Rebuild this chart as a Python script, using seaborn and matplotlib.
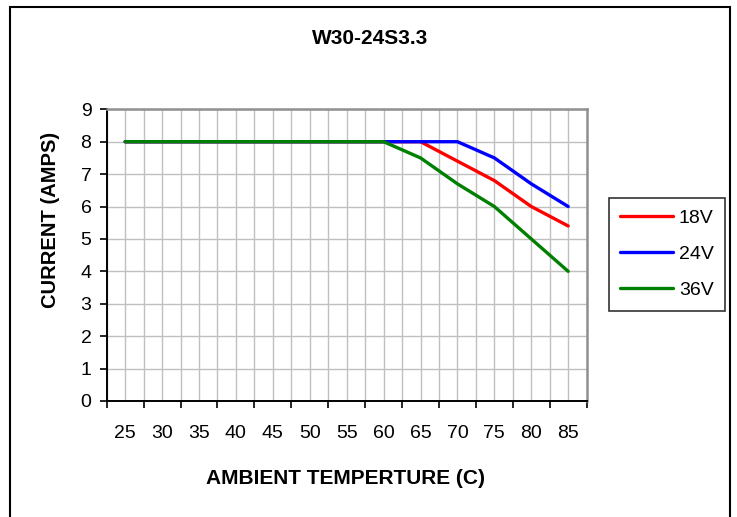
import pandas as pd
import matplotlib
matplotlib.use("Agg")
import matplotlib.pyplot as plt
import seaborn as sns
from matplotlib.patches import Rectangle

# Data
temps = [25, 30, 35, 40, 45, 50, 55, 60, 65, 70, 75, 80, 85]
amps_18v = [8, 8, 8, 8, 8, 8, 8, 8, 8, 7.4, 6.8, 6.0, 5.4]
amps_24v = [8, 8, 8, 8, 8, 8, 8, 8, 8, 8, 7.5, 6.7, 6.0]
amps_36v = [8, 8, 8, 8, 8, 8, 8, 8, 7.5, 6.7, 6.0, 5.0, 4.0]
series_names = ["18V", "24V", "36V"]
series_colors = ["#FF0000", "#0000FF", "#008000"]
x_ticks = temps
y_ticks = [0, 1, 2, 3, 4, 5, 6, 7, 8, 9]

df = pd.DataFrame({
    "temp": temps * 3,
    "amps": amps_18v + amps_24v + amps_36v,
    "volts": [s for s in series_names for _ in temps],
})

sns.set_style("white")
plt.rcParams["font.family"] = ["Liberation Sans", "DejaVu Sans"]
for key in ["text.color", "axes.labelcolor", "xtick.color", "ytick.color"]:
    plt.rcParams[key] = "black"

fig = plt.figure(figsize=(7.37, 5.17), dpi=100)
fig.patch.set_facecolor("white")
ax = fig.add_axes([0.1448, 0.2244, 0.796 - 0.1448, 0.7886 - 0.2244])

sns.lineplot(data=df, x="temp", y="amps", hue="volts", hue_order=series_names,
             palette=series_colors, linewidth=2.4, ax=ax, legend=False, zorder=3)

ax.set_xlim(22.5, 87.5)
ax.set_ylim(0, 9)
ax.set_xticks(x_ticks)
ax.set_xticks([t + 2.5 for t in [20] + x_ticks], minor=True)
ax.set_yticks(y_ticks)
ax.tick_params(axis="x", which="major", length=0, labelsize=14, pad=17.5)
ax.tick_params(axis="x", which="minor", length=5, width=1.2, direction="out", color="black", bottom=True)
ax.tick_params(axis="y", length=5, width=1.2, direction="out", labelsize=14, pad=6, left=True)

ax.grid(True, which="both", axis="x", color="#C0C0C0", linewidth=1)
ax.grid(True, which="major", axis="y", color="#C0C0C0", linewidth=1)
ax.set_axisbelow(True)

for side in ["left", "bottom"]:
    ax.spines[side].set_color("black")
    ax.spines[side].set_linewidth(1.4)
for side in ["top", "right"]:
    ax.spines[side].set_visible(True)
    ax.spines[side].set_color("#909090")
    ax.spines[side].set_linewidth(1.8)

ax.set_xlabel("")
ax.set_ylabel("")
fig.text(346 / 737, 1 - 479 / 517, "AMBIENT TEMPERTURE (C)", fontsize=15,
         fontweight="bold", ha="center", va="center")
fig.text(51 / 737, 1 - 220 / 517, "CURRENT (AMPS)", fontsize=14.5,
         fontweight="bold", ha="center", va="center", rotation=90)
fig.text(370 / 737, 1 - 38 / 517, "W30-24S3.3", fontsize=15, fontweight="bold",
         ha="center", va="center")

# legend
handles = [plt.Line2D([], [], color=c, linewidth=2.4) for c in series_colors]
leg = fig.legend(handles, series_names, loc="center left", bbox_to_anchor=(0.826, 0.508),
                 fontsize=14, frameon=True, fancybox=False, edgecolor="black",
                 handlelength=2.7, handletextpad=0.3, labelspacing=0.95,
                 borderpad=0.6, borderaxespad=0)
leg.get_frame().set_linewidth(1.2)

# outer chart frame
fig.patches.append(Rectangle((10 / 737, -0.05), 720 / 737, 1 - 7 / 517 + 0.05,
                             transform=fig.transFigure, fill=False,
                             edgecolor="black", linewidth=1.5))

fig.savefig("out.png", dpi=100)
